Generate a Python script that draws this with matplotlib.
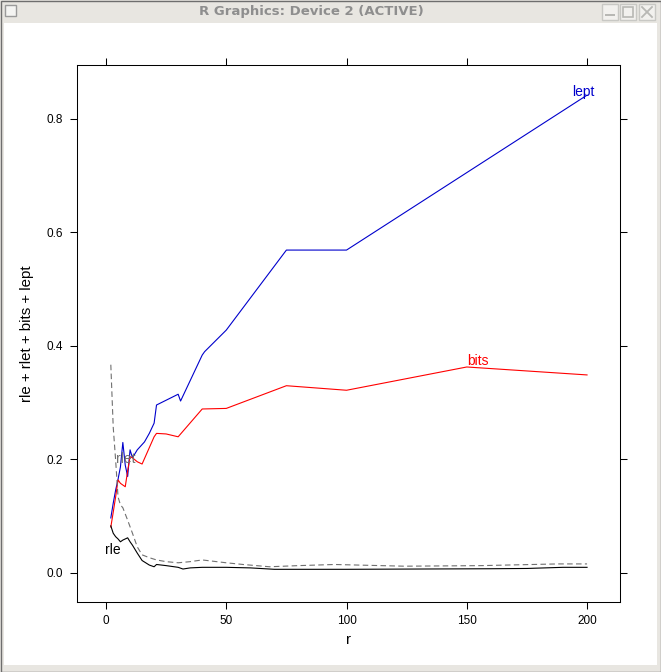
import numpy as np
import matplotlib.pyplot as plt
from matplotlib.patches import Rectangle

# series
lept_x = [2, 3, 4, 5, 6, 7, 8, 9, 10, 11, 13, 16, 18, 20, 21, 30, 31, 40, 41, 50, 75, 100, 200]
lept = [0.097, 0.123, 0.146, 0.165, 0.187, 0.230, 0.190, 0.170, 0.217, 0.203, 0.217, 0.231,
        0.246, 0.264, 0.296, 0.315, 0.303, 0.384, 0.390, 0.428, 0.569, 0.569, 0.842]

bits_x = [2, 3, 4, 5, 6, 7, 8, 9, 10, 11, 13, 15, 20, 21, 25, 30, 40, 50, 75, 100, 150, 200]
bits = [0.081, 0.107, 0.134, 0.164, 0.158, 0.155, 0.152, 0.180, 0.205, 0.203, 0.196, 0.192,
        0.240, 0.246, 0.245, 0.240, 0.289, 0.290, 0.330, 0.322, 0.363, 0.349]

rle_x = [2, 3, 4, 5, 6, 7, 8, 9, 10, 11, 13, 15, 18, 20, 21, 25, 30, 32, 35, 40, 50, 60,
         70, 100, 160, 175, 190, 200]
rle = [0.083, 0.070, 0.064, 0.060, 0.055, 0.058, 0.060, 0.062, 0.055, 0.049, 0.035, 0.022,
       0.014, 0.011, 0.015, 0.013, 0.010, 0.007, 0.009, 0.010, 0.010, 0.009,
       0.0065, 0.0065, 0.0075, 0.008, 0.010, 0.010]

rlet_x = [2, 3, 4, 5, 6, 7, 9, 11, 13, 15, 18, 21, 25, 30, 35, 40, 50, 57, 68, 80, 95,
          124, 156, 188, 200]
rlet = [0.367, 0.257, 0.199, 0.134, 0.120, 0.115, 0.093, 0.070, 0.046, 0.032, 0.027, 0.023,
        0.020, 0.018, 0.020, 0.023, 0.018, 0.015, 0.011, 0.013, 0.015,
        0.012, 0.013, 0.016, 0.016]

x_ticks = [0, 50, 100, 150, 200]
y_ticks = [0.0, 0.2, 0.4, 0.6, 0.8]

plt.rcParams['font.family'] = ['Liberation Sans', 'DejaVu Sans']

W, H = 661, 672
fig = plt.figure(figsize=(W / 100, H / 100), dpi=100)

# window chrome on a background axes in pixel units (y down)
bg = fig.add_axes([0, 0, 1, 1], zorder=-5)
bg.set_xlim(0, W)
bg.set_ylim(H, 0)
bg.axis("off")

def px_rect(x, y, w, h, **kw):
    bg.add_patch(Rectangle((x, y), w, h, **kw))

chrome = "#e8e6e1"
px_rect(0, 0, W, H, facecolor=chrome, edgecolor="none")
px_rect(4, 23, W - 8, H - 30, facecolor="white", edgecolor="none")
px_rect(0.5, 0.5, W - 1, H - 1, facecolor="none", edgecolor="#6e6e6e", linewidth=1)
px_rect(5, 5, 11, 11, facecolor="#f4f4f2", edgecolor="#9a9a9a", linewidth=1)
for bx in (602, 620, 639):
    px_rect(bx, 4, 16, 16, facecolor="#f2f1ee", edgecolor="#c8c8c4", linewidth=1)
px_rect(605, 14, 10, 2, facecolor="#b8b8b4", edgecolor="none")
px_rect(623, 7, 10, 10, facecolor="none", edgecolor="#b8b8b4", linewidth=1.2)
bg.plot([642, 652], [7, 17], color="#b8b8b4", lw=1.3)
bg.plot([642, 652], [17, 7], color="#b8b8b4", lw=1.3)
bg.text(311, 12, "R Graphics: Device 2 (ACTIVE)", ha="center", va="center",
        fontsize=9.5, fontweight="bold", color="#8e8e8e", family="DejaVu Sans")

# plot panel
ax = fig.add_axes([77 / W, 1 - 602 / H, (620 - 77) / W, (602 - 65) / H])
ax.patch.set_alpha(0)
ax.plot(lept_x, lept, color="#0000cc", lw=0.8)
ax.plot(bits_x, bits, color="#ff0000", lw=0.8)
ax.plot(rle_x, rle, color="black", lw=0.8)
ax.plot(rlet_x, rlet, color="#707070", lw=0.8, dashes=(5, 3))

ax.set_xlim(-12.06, 213.7)
ax.set_ylim(-0.0511, 0.8951)
ax.set_xticks(x_ticks)
ax.set_yticks(y_ticks)
ax.set_xticklabels([str(v) for v in x_ticks])
ax.set_yticklabels(["%.1f" % v for v in y_ticks])
ax.tick_params(direction="out", length=5, width=0.75, labelsize=8.5,
               top=True, right=True, labeltop=False, labelright=False)
ax.tick_params(axis="x", pad=4.3)
ax.tick_params(axis="y", pad=5)
for s in ax.spines.values():
    s.set_linewidth(0.75)
ax.set_xlabel("r", fontsize=10.8, labelpad=4.5)
ax.set_ylabel("rle + rlet + bits + lept", fontsize=10.8, labelpad=9)

# direct labels
ax.text(198.3, 0.841, "lept", color="#0000cc", fontsize=10, ha="center", va="baseline")
ax.text(154.5, 0.366, "bits", color="#ff0000", fontsize=10, ha="center", va="baseline")
ax.text(2.7, 0.0335, "rle", color="black", fontsize=10, ha="center", va="baseline")
ax.text(8.2, 0.193, "rlet", color="#707070", fontsize=10, ha="center", va="baseline")

fig.savefig("out.png", dpi=100)
